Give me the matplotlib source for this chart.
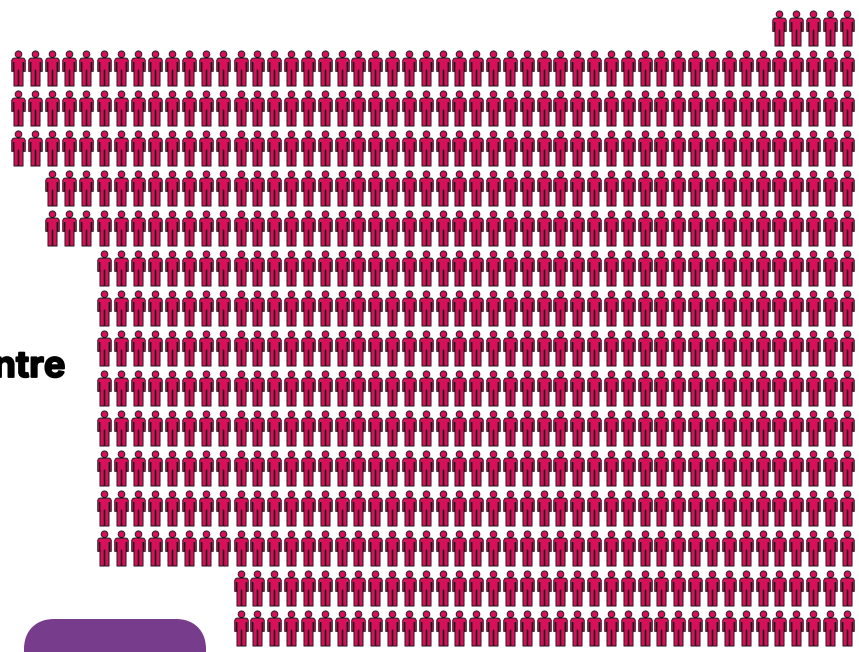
import matplotlib
matplotlib.use('Agg')
import matplotlib.patheffects as pe
import matplotlib.pyplot as plt
import numpy as np
from matplotlib.patches import FancyBboxPatch
from matplotlib.path import Path

# people per row, top row first, rows are right aligned
row_counts = [5, 50, 50, 50, 48, 48, 45, 45, 45, 45, 45, 45, 45, 45, 37, 37]
n_cols = 50
label = 'Centre'

WIDTH, HEIGHT = 859, 652
ROW_STEP = 40.0
Y0 = 27.5

# the columns are not quite evenly spaced: column number -> pixel
col_anchor = [-1.05, 13, 49, 49.73]
px_anchor = [0, 240.5, 846.7, 859]


def col_to_px(v):
    return np.interp(v, col_anchor, px_anchor)


def px_to_col(v):
    return np.interp(v, px_anchor, col_anchor)


def person_marker():
    # drawn in pixels around the centre of the figure, y up
    body = [(-4.4, 10.2), (-5.8, 9.6), (-6.6, 8), (-6.6, -2.8), (-5.1, -2.8), (-5.1, 6),
            (-4.4, 6), (-4.4, -17.2), (-0.4, -17.2), (-0.4, -1.5), (0.4, -1.5),
            (0.4, -17.2), (4.4, -17.2), (4.4, 6), (5.1, 6), (5.1, -2.8),
            (6.6, -2.8), (6.6, 8), (5.8, 9.6), (4.4, 10.2), (-4.4, 10.2)]
    codes = [Path.MOVETO] + [Path.LINETO] * (len(body) - 2) + [Path.CLOSEPOLY]
    head = Path.circle((0, 14.0), 3.2)
    return Path.make_compound_path(head, Path(body, codes))


fig = plt.figure(figsize=(WIDTH / 100, HEIGHT / 100), dpi=100)

ax = fig.add_axes([0, 0, 1, 1])
ax.set_xscale('function', functions=(col_to_px, px_to_col))
ax.set_xlim(col_anchor[0], col_anchor[-1])
ax.set_ylim((HEIGHT - Y0) / ROW_STEP, -Y0 / ROW_STEP)
ax.axis('off')

xs, ys = [], []
for r, count in enumerate(row_counts):
    for c in range(n_cols - count, n_cols):
        xs.append(c)
        ys.append(r)
xs = np.array(xs)
ys = np.array(ys)

marker = person_marker()
size = (35.0 * 72 / 100) ** 2
# soft grey halo round each figure
ax.scatter(xs, ys, s=size, marker=marker, facecolor='#d0d0d4',
           edgecolor='#d0d0d4', linewidth=1.2, zorder=2)
ax.scatter(xs, ys, s=size, marker=marker, facecolor='#d8105a',
           edgecolor='#1a1418', linewidth=0.6, zorder=3)

# overlay in pixel coordinates for the clipped label and box
over = fig.add_axes([0, 0, 1, 1])
over.set_xlim(0, WIDTH)
over.set_ylim(HEIGHT, 0)
over.axis('off')
over.patch.set_alpha(0)

txt = over.text(65.5, 377, label, ha='right', va='baseline', fontsize=26,
                fontfamily='Inter', fontweight='bold', color='black')
txt.set_path_effects([pe.withStroke(linewidth=1.3, foreground='black')])
over.add_patch(FancyBboxPatch((39, 634), 152, 60,
                              boxstyle='round,pad=0,rounding_size=1',
                              mutation_scale=15, facecolor='#773c8c',
                              edgecolor='#773c8c', linewidth=30 * 0.72,
                              joinstyle='round'))

fig.savefig('out.png', dpi=100)
